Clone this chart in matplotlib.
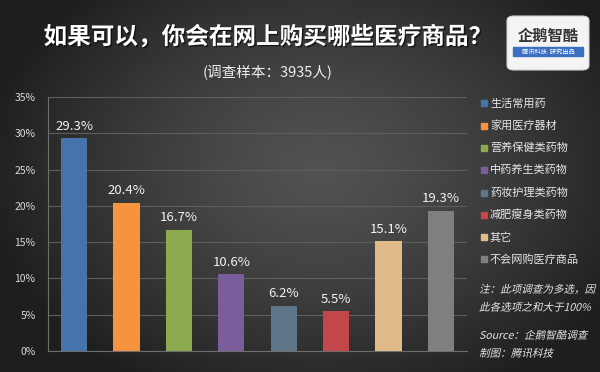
import numpy as np
import matplotlib
matplotlib.use("Agg")
import matplotlib.pyplot as plt
from matplotlib.patches import Rectangle, FancyBboxPatch, PathPatch
from matplotlib.textpath import TextPath
from matplotlib.font_manager import FontProperties
from matplotlib.transforms import Affine2D
import matplotlib.patheffects as pe

plt.rcParams['font.family'] = ['Noto Sans CJK SC', 'DejaVu Sans']

categories = ["生活常用药", "家用医疗器材", "营养保健类药物", "中药养生类药物",
              "药妆护理类药物", "减肥瘦身类药物", "其它", "不会网购医疗商品"]
values = [29.3, 20.4, 16.7, 10.6, 6.2, 5.5, 15.1, 19.3]
colors = ["#4673aa", "#f7923f", "#8eaa4e", "#7c5d9c", "#5f7689", "#c1474a", "#e0ba88", "#7f7f7f"]
yticks = [0, 5, 10, 15, 20, 25, 30, 35]
notes = ["注：此项调查为多选，因", "此各选项之和大于100%", "Source：企鹅智酷调查", "制图：腾讯科技"]

W, H = 600, 372
fig = plt.figure(figsize=(6, 3.72), dpi=100)

# radial background gradient
bg = fig.add_axes([0, 0, 1, 1], zorder=-10)
yy, xx = np.mgrid[0:H, 0:W]
r = np.sqrt(((xx - 320) / 340.0) ** 2 + ((yy - 170) / 250.0) ** 2)
r = np.clip(r, 0, 1)
inner, outer = 0x52 / 255, 0x1e / 255
g = inner + (outer - inner) * r ** 1.3
img = np.dstack([g, g, g])
bg.imshow(img, aspect='auto', extent=[0, 1, 0, 1])
bg.axis('off')

ax = fig.add_axes([48 / W, 1 - 351 / H, (467 - 48) / W, (351 - 97) / H])
ax.patch.set_alpha(0)
x = np.arange(len(values))
bars = ax.bar(x, values, width=0.5, color=colors, zorder=3)
for xi, v in zip(x, values):
    ax.annotate(f"{v:.1f}%", (xi, v), xytext=(0, 4), textcoords='offset points',
                ha='center', va='bottom', color='#f2f2f2', fontsize=9.5)

ax.set_xlim(-0.5, len(values) - 0.5)
ax.set_ylim(0, 35)
ax.set_yticks(yticks)
ax.set_yticklabels([f"{t}%" for t in yticks], color='#d9d9d9', fontsize=7.5)
ax.set_xticks([])
ax.tick_params(axis='y', length=0, pad=9)
ax.yaxis.grid(True, color='#5e5e5e', lw=0.8, zorder=0)
for s in ['top', 'right']:
    ax.spines[s].set_visible(False)
for s in ['left', 'bottom']:
    ax.spines[s].set_color('#6e6e6e')
    ax.spines[s].set_linewidth(0.8)

# titles
fig.text(268 / W, 1 - 37 / H, "如果可以，你会在网上购买哪些医疗商品？", ha='center', va='center',
         color='white', fontsize=17, fontweight='bold',
         path_effects=[pe.withSimplePatchShadow(offset=(1, -1), shadow_rgbFace='black', alpha=0.6)])
fig.text(268 / W, 1 - 73 / H, "(调查样本：3935人)", ha='center', va='center',
         color='#eeeeee', fontsize=10.5)

# legend
for i, (lab, col) in enumerate(zip(categories, colors)):
    yc = 103.3 + i * 22.3
    fig.patches.append(Rectangle((481 / W, 1 - (yc + 3) / H), 6 / W, 6 / H,
                                 transform=fig.transFigure, color=col))
    fig.text(490 / W, 1 - yc / H, lab, ha='left', va='center', color='#e6e6e6', fontsize=8)

# notes in slanted text
fp = FontProperties(family=['Noto Sans CJK SC', 'DejaVu Sans'])
fs = 7.6
for line, yc in zip(notes, [289, 307, 335, 353]):
    tp = TextPath((0, 0), line, size=fs, prop=fp)
    tr = Affine2D().skew_deg(14, 0).scale(100 / 72).translate(479, H - yc - 0.36 * fs * 100 / 72)
    fig.patches.append(PathPatch(tp, transform=tr, facecolor='#e8e8e8', edgecolor='none'))

# logo
fig.patches.append(FancyBboxPatch((507 / W, 1 - 70 / H), 82 / W, 54 / H,
                                  boxstyle="round,pad=0,rounding_size=0.012",
                                  transform=fig.transFigure, facecolor='#f4f4f4',
                                  edgecolor='#cfcfcf', lw=0.8))
fig.text(548 / W, 1 - 36 / H, "企鹅智酷", ha='center', va='center', color='#333333',
         fontsize=11, fontweight='bold')
fig.patches.append(Rectangle((513 / W, 1 - 56 / H), 70 / W, 9 / H,
                             transform=fig.transFigure, color='#3b6fc2'))
fig.text(548 / W, 1 - 51.5 / H, "腾讯科技  研究出品", ha='center', va='center',
         color='white', fontsize=4.5, style='italic')

fig.savefig("out.png", dpi=100)
